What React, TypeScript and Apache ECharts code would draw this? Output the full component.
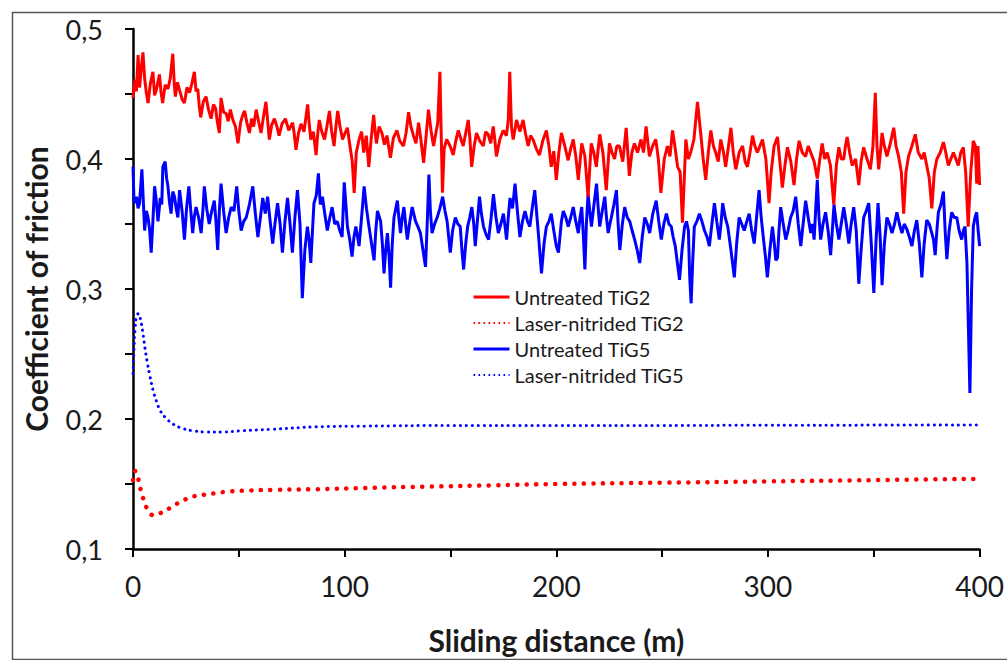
import React, { useEffect, useRef } from "react";
import * as echarts from "echarts";

const FONT = "Lato, 'Open Sans', sans-serif";

const seriesNames = [
  "Untreated TiG2",
  "Laser-nitrided TiG2",
  "Untreated TiG5",
  "Laser-nitrided TiG5",
];

const xTicksMax = 400;

// Untreated TiG2 — [sliding distance (m), coefficient of friction]
const untreatedTiG2: number[][] = [
  [0,0.447],[0.9,0.461],[1.6,0.452],[2.4,0.48],[3.1,0.455],[3.8,0.468],[4.7,0.482],[5.5,0.462],[6.3,0.451],[7.1,0.443],[8.2,0.458],[9.4,0.467],[10.2,0.449],[11,0.453],[12.5,0.465],[13.2,0.452],[14,0.443],[15.2,0.457],[16.5,0.454],[17.6,0.462],[18.8,0.481],[19.5,0.458],[20,0.448],[21,0.459],[22,0.453],[23.2,0.446],[24.3,0.443],[25.5,0.455],[26.7,0.451],[27.8,0.458],[29,0.467],[29.8,0.452],[30.6,0.454],[31.3,0.441],[32,0.432],[33.2,0.444],[34.5,0.448],[35.7,0.438],[36.9,0.431],[38,0.442],[39,0.439],[39.9,0.428],[40.8,0.42],[41.6,0.447],[42.8,0.436],[44,0.435],[45,0.429],[46,0.438],[47.2,0.43],[48.4,0.425],[49.6,0.412],[50.8,0.428],[51.7,0.433],[52.7,0.437],[53.8,0.428],[55,0.42],[56,0.431],[57,0.425],[58.2,0.438],[59.3,0.429],[60.5,0.42],[61.5,0.431],[62.8,0.444],[63.6,0.43],[64.4,0.415],[65.5,0.426],[66.8,0.431],[68,0.425],[69,0.418],[70.4,0.427],[72,0.431],[73.6,0.422],[75.4,0.428],[76.2,0.419],[77,0.407],[78.2,0.42],[79.4,0.427],[80.8,0.421],[82.5,0.442],[83.2,0.428],[84,0.415],[85.2,0.421],[86.5,0.403],[87.2,0.418],[88,0.43],[89.2,0.421],[90.5,0.415],[91.6,0.425],[92.8,0.437],[93.8,0.422],[95,0.41],[95.8,0.424],[96.7,0.437],[97.8,0.425],[99,0.415],[100.2,0.42],[101.3,0.424],[102.5,0.41],[103.6,0.398],[104.5,0.374],[105.5,0.405],[106.8,0.415],[108,0.421],[109,0.405],[110.2,0.418],[111.4,0.394],[112.5,0.415],[113.7,0.434],[114.4,0.421],[115,0.412],[116.3,0.425],[117.6,0.42],[118.8,0.411],[120,0.418],[121.6,0.401],[123,0.416],[124.7,0.422],[126,0.414],[127.8,0.41],[129,0.42],[130.2,0.436],[131.3,0.425],[132.5,0.418],[133.7,0.412],[134.9,0.428],[136,0.415],[137.3,0.397],[138.5,0.418],[139.6,0.438],[140.8,0.422],[142,0.41],[143,0.419],[144,0.428],[145,0.467],[145.6,0.42],[146.2,0.374],[147,0.408],[148.2,0.415],[149.8,0.41],[151.3,0.403],[152.5,0.414],[153.7,0.422],[155,0.415],[156,0.41],[157.2,0.42],[158.4,0.43],[159.2,0.415],[160,0.394],[161.2,0.41],[162.3,0.42],[163.8,0.414],[165.5,0.41],[166.6,0.421],[167.8,0.419],[169,0.412],[170.2,0.425],[171,0.414],[171.7,0.402],[173.3,0.415],[174.9,0.422],[176.4,0.418],[177.3,0.43],[178,0.467],[178.8,0.425],[179.6,0.415],[180.4,0.422],[181.2,0.43],[182.8,0.421],[184.3,0.43],[185.5,0.419],[186.7,0.41],[187.8,0.418],[189,0.415],[190.5,0.408],[192,0.403],[193.6,0.414],[195.3,0.422],[196.5,0.41],[197.6,0.394],[198.8,0.406],[200,0.384],[201.2,0.405],[202.4,0.42],[204,0.41],[205.6,0.399],[206.8,0.408],[208,0.415],[209.2,0.402],[210.4,0.384],[211.2,0.398],[212,0.412],[213.5,0.402],[215,0.371],[216.5,0.412],[217.7,0.405],[218.9,0.394],[220.5,0.419],[222,0.405],[223.6,0.376],[225.1,0.412],[226.3,0.405],[227.5,0.4],[228.6,0.41],[229.8,0.41],[231.4,0.398],[233,0.424],[234.5,0.387],[235.7,0.405],[236.9,0.412],[238.4,0.405],[240,0.415],[241.2,0.405],[242.4,0.425],[244,0.402],[245.5,0.41],[247,0.415],[248.2,0.4],[249.4,0.374],[251,0.4],[252.5,0.41],[253.7,0.402],[254.9,0.422],[256,0.41],[257.3,0.394],[258.5,0.39],[259.6,0.351],[261.2,0.415],[262.4,0.4],[263.5,0.405],[265,0.415],[266.7,0.444],[268.2,0.42],[269.4,0.4],[270.6,0.384],[271.8,0.405],[273,0.422],[274.2,0.41],[275.3,0.405],[276.5,0.398],[277.7,0.415],[279,0.405],[280,0.394],[281.2,0.408],[282.5,0.424],[283.6,0.405],[284.8,0.392],[286.4,0.405],[288,0.41],[289.2,0.398],[290.3,0.394],[291.5,0.405],[292.7,0.418],[293.8,0.41],[295,0.405],[296.2,0.41],[297.4,0.415],[299,0.4],[300.5,0.366],[301.5,0.39],[302.9,0.41],[304.5,0.417],[305.6,0.398],[306.8,0.378],[308,0.395],[309.2,0.409],[310.8,0.398],[312.3,0.38],[313.5,0.4],[314.7,0.414],[316.2,0.405],[317.8,0.402],[319,0.41],[320.2,0.405],[321.8,0.398],[323.3,0.385],[324.5,0.4],[325.6,0.412],[326.8,0.4],[328,0.405],[329.5,0.395],[331.1,0.365],[332.3,0.395],[333.5,0.409],[334.6,0.4],[335.8,0.4],[336.6,0.41],[337.4,0.417],[338.6,0.405],[339.8,0.395],[341.4,0.4],[342.9,0.38],[344,0.398],[345.2,0.409],[346.8,0.4],[348.4,0.392],[349.6,0.41],[350.7,0.451],[351.5,0.41],[352.3,0.392],[353.1,0.405],[353.9,0.42],[355,0.41],[356.2,0.402],[357.8,0.412],[359.4,0.424],[360.5,0.41],[361.7,0.402],[363,0.39],[364.1,0.358],[365.2,0.39],[366.4,0.402],[368,0.41],[369.6,0.419],[371,0.405],[372.7,0.4],[373.8,0.405],[375,0.395],[376.2,0.385],[377.4,0.362],[378.6,0.39],[379.8,0.4],[381.4,0.405],[382.9,0.413],[384,0.405],[385.2,0.395],[386.4,0.4],[387.6,0.405],[388.8,0.4],[389.9,0.395],[391.1,0.405],[392.3,0.409],[393.4,0.39],[394.6,0.348],[395.8,0.39],[397,0.414],[398,0.41],[398.6,0.381],[399.2,0.41],[400,0.38]
];

// Untreated TiG5
const untreatedTiG5: number[][] = [
  [0,0.394],[0.5,0.366],[1.7,0.371],[2.4,0.362],[3.1,0.366],[4.2,0.392],[5.5,0.345],[6.3,0.36],[7.1,0.355],[7.9,0.345],[8.6,0.328],[9.4,0.352],[10.2,0.379],[11,0.368],[11.8,0.352],[12.9,0.37],[13.6,0.365],[14.1,0.394],[15.2,0.398],[15.9,0.385],[16.5,0.379],[17.3,0.366],[18,0.358],[18.8,0.375],[19.6,0.371],[20.4,0.362],[21.2,0.355],[22,0.376],[23.2,0.36],[24.3,0.338],[25.3,0.362],[26.4,0.379],[27.3,0.36],[28.2,0.343],[29,0.356],[29.8,0.363],[31,0.355],[32.2,0.343],[33,0.36],[33.7,0.379],[34.8,0.362],[36,0.35],[37.2,0.36],[38.4,0.368],[39.2,0.352],[40,0.33],[40.8,0.36],[41.6,0.381],[42.8,0.36],[44,0.343],[45.2,0.355],[46.4,0.363],[47.7,0.36],[49,0.379],[50,0.36],[51.1,0.345],[52.3,0.352],[53.5,0.355],[55,0.365],[56.6,0.379],[57.8,0.358],[59,0.34],[60.2,0.355],[61.3,0.37],[62.5,0.358],[63.6,0.371],[64.8,0.352],[66,0.335],[67.2,0.352],[68.3,0.366],[69.5,0.35],[70.6,0.328],[71.8,0.352],[73,0.37],[74.2,0.35],[75.3,0.328],[76.5,0.355],[77.7,0.376],[78.9,0.35],[80,0.293],[81.2,0.33],[82.4,0.348],[83.2,0.338],[84,0.32],[84.8,0.345],[85.5,0.366],[86.6,0.372],[87.6,0.389],[88.5,0.365],[89.5,0.371],[90.6,0.358],[91.8,0.345],[93,0.355],[94.1,0.363],[95.3,0.35],[96.5,0.352],[97.7,0.345],[98.8,0.34],[99.8,0.382],[100.6,0.365],[101.3,0.348],[102.4,0.338],[103.5,0.325],[104.4,0.34],[105.3,0.348],[106.8,0.333],[108,0.355],[109.2,0.379],[110.3,0.362],[111.5,0.348],[112.7,0.335],[113.9,0.322],[114.7,0.345],[115.5,0.36],[117,0.352],[117.8,0.335],[118.6,0.312],[119.4,0.33],[120.2,0.343],[121,0.325],[121.7,0.301],[122.5,0.335],[123.3,0.355],[124.9,0.368],[125.6,0.355],[126.4,0.343],[127.2,0.355],[128,0.363],[128.8,0.35],[129.6,0.338],[130.8,0.352],[131.9,0.363],[133.5,0.352],[134.6,0.348],[135.8,0.343],[137,0.33],[138.2,0.317],[139,0.35],[139.8,0.388],[140.5,0.36],[141.3,0.343],[142.5,0.35],[143.7,0.355],[145,0.362],[146.3,0.371],[147.4,0.36],[148.4,0.352],[149.9,0.328],[151,0.345],[152.3,0.355],[153.5,0.35],[154.6,0.348],[155.4,0.33],[156.2,0.315],[157.2,0.335],[158.1,0.348],[159.1,0.355],[160.1,0.363],[161,0.35],[161.7,0.333],[162.7,0.352],[163.7,0.371],[164.6,0.358],[165.6,0.348],[166.8,0.342],[168,0.338],[169.2,0.355],[170.3,0.373],[171.5,0.355],[172.6,0.343],[173.8,0.35],[175,0.358],[175.8,0.348],[176.5,0.338],[177.3,0.355],[178.1,0.37],[179.3,0.362],[180.5,0.381],[181.6,0.36],[182.8,0.34],[184,0.352],[185.2,0.36],[186.4,0.352],[187.5,0.348],[188.6,0.362],[189.8,0.376],[191.4,0.345],[193,0.312],[194.2,0.335],[195.3,0.348],[196.5,0.352],[197.6,0.358],[198.8,0.345],[200,0.333],[201,0.328],[202.4,0.352],[203.3,0.36],[204.5,0.355],[205.6,0.348],[206.8,0.355],[208,0.363],[209.2,0.352],[210.4,0.343],[211.2,0.355],[212,0.363],[212.8,0.34],[213.5,0.315],[214.2,0.35],[215,0.373],[215.8,0.36],[216.6,0.348],[217.8,0.365],[219,0.381],[219.8,0.362],[220.5,0.348],[221.7,0.36],[222.9,0.371],[223.7,0.355],[224.5,0.343],[225.3,0.35],[226,0.355],[227.2,0.365],[228.4,0.376],[229.2,0.35],[230,0.33],[231.2,0.35],[232.3,0.363],[233.5,0.355],[234.7,0.352],[235.8,0.345],[237,0.338],[238.2,0.33],[239.4,0.32],[240.6,0.34],[241.8,0.355],[243,0.35],[244.1,0.343],[245.6,0.358],[247.2,0.368],[248.4,0.352],[249.6,0.338],[250.8,0.35],[252,0.358],[253.2,0.35],[254.3,0.348],[255.2,0.34],[256.2,0.333],[257.2,0.32],[258.2,0.307],[259.4,0.33],[260.6,0.348],[261.5,0.352],[262.4,0.345],[263,0.31],[263.7,0.289],[264.4,0.32],[265.2,0.348],[266.4,0.352],[267.6,0.358],[268.8,0.352],[270,0.345],[271.2,0.34],[272.3,0.333],[273.5,0.35],[274.7,0.366],[275.8,0.352],[277,0.338],[277.8,0.35],[278.6,0.366],[279.8,0.355],[281,0.348],[282.5,0.33],[284.1,0.309],[285.2,0.335],[286.4,0.355],[287.6,0.35],[288.8,0.345],[290,0.352],[291.1,0.358],[292.3,0.345],[293.5,0.335],[294.6,0.355],[295.8,0.376],[296.8,0.355],[297.9,0.338],[298.8,0.325],[299.7,0.309],[300.9,0.33],[302.1,0.348],[303,0.335],[303.7,0.322],[304.5,0.324],[305.2,0.345],[306,0.363],[307.2,0.35],[308.4,0.338],[309.5,0.345],[310.7,0.355],[311.9,0.36],[313.1,0.371],[314.3,0.35],[315.5,0.333],[316.6,0.35],[317.8,0.368],[319,0.355],[320.2,0.343],[321,0.35],[321.8,0.338],[322.5,0.36],[323.3,0.384],[324.1,0.355],[324.9,0.338],[326,0.35],[327.2,0.359],[328.4,0.345],[329.6,0.326],[330.4,0.345],[331.2,0.365],[332.3,0.35],[333.5,0.338],[334.6,0.35],[335.8,0.363],[337,0.35],[338.2,0.335],[339.3,0.35],[340.5,0.363],[341.7,0.345],[342.9,0.304],[344,0.33],[345.2,0.355],[346.4,0.36],[347.6,0.366],[348.8,0.335],[350,0.297],[351,0.335],[352,0.366],[353,0.34],[353.9,0.303],[355,0.335],[356.2,0.355],[357.4,0.35],[358.6,0.343],[359.8,0.35],[360.9,0.359],[362.1,0.35],[363.3,0.343],[364.4,0.35],[365.6,0.346],[366.8,0.34],[368,0.333],[369.2,0.345],[370.3,0.353],[371.5,0.335],[372.7,0.309],[373.8,0.335],[375,0.353],[376.2,0.35],[377.4,0.343],[378.2,0.338],[379,0.326],[379.8,0.345],[380.5,0.359],[381.7,0.365],[382.9,0.375],[383.7,0.345],[384.5,0.323],[385.6,0.345],[386.8,0.359],[388,0.355],[389.2,0.355],[390.3,0.345],[391.5,0.338],[392.3,0.345],[393.1,0.348],[394,0.32],[395.4,0.22],[396.2,0.3],[397,0.348],[397.8,0.355],[398.6,0.359],[399.3,0.345],[400,0.333]
];

// Laser-nitrided TiG2
const laserTiG2: number[][] = [
  [0,0.153],[0.5,0.159],[1,0.16],[2,0.157],[3,0.15],[4,0.143],[5.5,0.136],[7,0.13],[9.5,0.126],[12,0.127],[14,0.1285],[18,0.132],[22,0.136],[26,0.139],[30,0.141],[35,0.142],[39,0.143],[44,0.144],[55,0.145],[66,0.1455],[87,0.146],[110,0.147],[140,0.148],[170,0.149],[200,0.15],[250,0.151],[300,0.152],[350,0.153],[400,0.154]
];

// Laser-nitrided TiG5
const laserTiG5: number[][] = [
  [0,0.235],[0.5,0.255],[1,0.27],[1.8,0.28],[2.6,0.281],[3.5,0.277],[4.5,0.268],[5.6,0.255],[6.8,0.243],[8,0.233],[9.5,0.222],[11,0.214],[13,0.206],[16,0.2],[19,0.196],[23,0.193],[28,0.191],[35,0.19],[42,0.19],[52,0.191],[65,0.192],[87,0.194],[110,0.1945],[150,0.195],[200,0.195],[250,0.195],[300,0.1952],[350,0.1953],[400,0.1954]
];

const RED = "#ff0000";
const BLUE = "#0000ff";

export default function App() {
  const ref = useRef<HTMLDivElement>(null);
  useEffect(() => {
    if (!ref.current) return;
    const chart = echarts.init(ref.current, undefined, { renderer: "svg" });
    chart.setOption({
      animation: false,
      backgroundColor: "#ffffff",
      textStyle: { fontFamily: FONT },
      grid: { left: 133, right: 24, top: 29, bottom: 111, containLabel: false },
      graphic: [
        {
          type: "rect",
          left: 10,
          top: 10,
          shape: { x: 0, y: 0, width: 1010, height: 647 },
          style: { fill: "none", stroke: "#555", lineWidth: 1.5 },
          silent: true,
          z: -10,
        },
      ],
      legend: {
        left: 472,
        top: 287,
        padding: 0,
        orient: "vertical",
        itemWidth: 36,
        itemHeight: 14,
        itemGap: 6,
        textStyle: { fontFamily: FONT, fontSize: 20, color: "#1a1a1a" },
        data: seriesNames.map((name, i) => ({
          name,
          itemStyle: { opacity: 0, borderWidth: 0 },
          lineStyle:
            i % 2 === 0
              ? { width: 3, type: "solid", color: i < 2 ? RED : BLUE }
              : { width: 2, type: [1.6, 3.4], cap: "butt", color: i < 2 ? RED : BLUE },
        })),
      },
      xAxis: {
        type: "value",
        min: 0,
        max: xTicksMax,
        interval: 50,
        name: "Sliding distance (m)",
        nameLocation: "middle",
        nameGap: 76,
        nameTextStyle: { fontFamily: FONT, fontSize: 30, fontWeight: "bold", color: "#1a1a1a" },
        axisLine: { show: true, onZero: false, lineStyle: { color: "#000", width: 2.5 } },
        axisTick: { show: true, inside: false, length: 8, lineStyle: { color: "#000", width: 2 } },
        splitLine: { show: false },
        axisLabel: {
          fontFamily: FONT,
          fontSize: 28,
          color: "#1a1a1a",
          margin: 23,
          formatter: (v: number) => (Math.round(v) % 100 === 0 ? String(Math.round(v)) : ""),
        },
      },
      yAxis: {
        type: "value",
        min: 0.1,
        max: 0.5,
        interval: 0.05,
        name: "Coefficient of friction",
        nameLocation: "middle",
        nameGap: 82,
        nameTextStyle: { fontFamily: FONT, fontSize: 30, fontWeight: "bold", color: "#1a1a1a" },
        axisLine: { show: true, onZero: false, lineStyle: { color: "#000", width: 2.5 } },
        axisTick: { show: true, inside: false, length: 8, lineStyle: { color: "#000", width: 2 } },
        splitLine: { show: false },
        axisLabel: {
          fontFamily: FONT,
          fontSize: 27,
          color: "#1a1a1a",
          margin: 30,
          formatter: (v: number) => {
            const r = Math.round(v * 100);
            if (r % 10 !== 0) return "";
            return (r / 100).toFixed(1).replace(".", ",");
          },
        },
      },
      series: [
        {
          name: seriesNames[1],
          type: "line",
          data: laserTiG2,
          showSymbol: false,
          symbol: "none",
          smooth: 0.4,
          lineStyle: { color: RED, width: 4.5, type: [0.1, 9.4], cap: "round" },
          itemStyle: { color: RED },
          z: 2,
        },
        {
          name: seriesNames[3],
          type: "line",
          data: laserTiG5,
          showSymbol: false,
          symbol: "none",
          smooth: 0.4,
          lineStyle: { color: BLUE, width: 3, type: [0.1, 5.9], cap: "round" },
          itemStyle: { color: BLUE },
          z: 2,
        },
        {
          name: seriesNames[2],
          type: "line",
          data: untreatedTiG5,
          showSymbol: false,
          symbol: "none",
          lineStyle: { color: BLUE, width: 3 },
          itemStyle: { color: BLUE },
          z: 3,
        },
        {
          name: seriesNames[0],
          type: "line",
          data: untreatedTiG2,
          showSymbol: false,
          symbol: "none",
          lineStyle: { color: RED, width: 3 },
          itemStyle: { color: RED },
          z: 4,
        },
      ],
    });
    return () => chart.dispose();
  }, []);
  return (
    <div
      ref={ref}
      style={{ position: "fixed", left: 0, top: 0, width: 1007, height: 660, background: "#fff" }}
    />
  );
}
